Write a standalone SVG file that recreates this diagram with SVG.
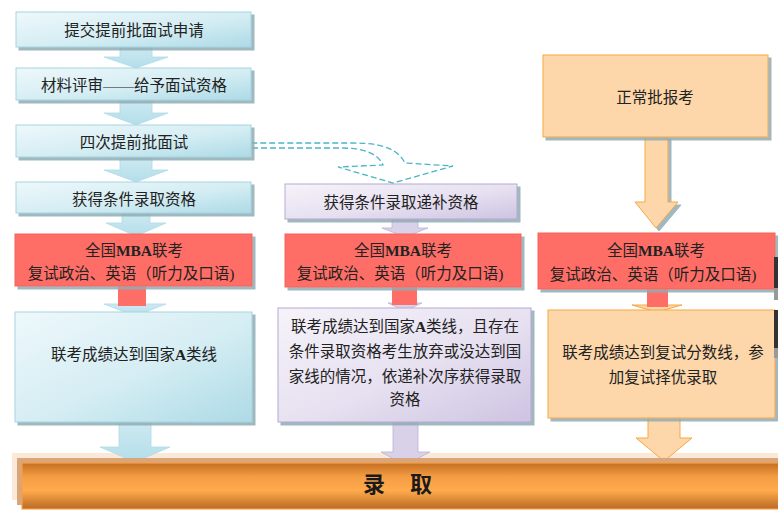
<svg xmlns="http://www.w3.org/2000/svg" width="778" height="513" viewBox="0 0 778 513">
<defs>
<linearGradient id="gC" x1="0" y1="0" x2="1" y2="1">
<stop offset="0" stop-color="#EEF8FB"/><stop offset="0.55" stop-color="#D4EDF3"/><stop offset="1" stop-color="#ADDAE6"/>
</linearGradient>
<linearGradient id="gCa" x1="0" y1="0" x2="0" y2="1">
<stop offset="0" stop-color="#CFEAF2"/><stop offset="1" stop-color="#B3DEEA"/>
</linearGradient>
<linearGradient id="gP" x1="0" y1="0" x2="1" y2="1">
<stop offset="0" stop-color="#F6F3FA"/><stop offset="0.55" stop-color="#E6E0F0"/><stop offset="1" stop-color="#CEC3E2"/>
</linearGradient>
<linearGradient id="gBar" x1="0" y1="0" x2="0" y2="1">
<stop offset="0" stop-color="#C46E22"/><stop offset="0.3" stop-color="#F59D44"/><stop offset="0.6" stop-color="#FFAA4C"/><stop offset="1" stop-color="#B96A24"/>
</linearGradient>
<filter id="sh" x="-10%" y="-10%" width="130%" height="140%">
<feDropShadow dx="3" dy="3" stdDeviation="0.6" flood-color="#8FABB4" flood-opacity="0.85"/>
</filter>
</defs>
<style>
.t{font-family:"Liberation Serif","Noto Sans CJK SC",serif;font-size:15.5px;fill:#222;text-anchor:middle;dominant-baseline:central}
.cyan{fill:url(#gC);stroke:#A5D5E0;stroke-width:1}
.purple{fill:url(#gP);stroke:#B7A9D2;stroke-width:1}
.red{fill:#FF6E66;stroke:#F4625A;stroke-width:1}
.peach{fill:#FDD6A9;stroke:#F4A843;stroke-width:1}
.ca{fill:url(#gCa);stroke:#AEDBE6;stroke-width:0.8}
.pa{fill:#D9D1E8;stroke:#BDB1D6;stroke-width:0.8}
.ra{fill:#FF6E66}
.oa{fill:#FDD6A9;stroke:#F4A843;stroke-width:1}
.dash{fill:none;stroke:#49B5C5;stroke-width:1.3;stroke-dasharray:6 3}
</style>
<rect width="778" height="513" fill="#FFFFFF"/>
<rect x="12" y="453" width="766" height="47" fill="#FCE8D6"/>

<g id="connectors">
<polygon class="ca" points="120,45 152,45 152,57 168,57 136,68 104,57 120,57"/>
<polygon class="ca" points="120,99 152,99 152,113 168,113 136,125 104,113 120,113"/>
<polygon class="ca" points="120,156 152,156 152,170 168,170 136,182 104,170 120,170"/>
<polygon class="ca" points="122,212 150,212 150,223 166,223 136,236 106,223 122,223"/>
<polygon class="ca" points="104,304 166,304 135,316"/>
<rect class="ra" x="118" y="285" width="28" height="21"/>
<polygon class="ca" points="119,420 151,420 151,447 170,447 135,462 100,447 119,447"/>
<polygon class="pa" points="392,219 418,219 418,228 428,228 405,237 382,228 392,228"/>
<polygon class="pa" points="388,303 422,303 405,311"/>
<rect class="ra" x="392" y="286" width="25" height="19"/>
<polygon class="pa" points="393,420 418,420 418,452 430,452 405,465 381,452 393,452"/>
<polygon class="oa" filter="url(#sh)" points="645,136 668,136 668,202 678,202 656,228 635,202 645,202"/>
<polygon class="oa" points="632,305 682,305 657,312"/>
<rect class="ra" x="647" y="289" width="21" height="18"/>
<polygon class="oa" points="648,416 680,416 680,438 692,438 664,461 636,438 648,438"/>
<path class="dash" d="M252,148 L340,148 C365,148 378,154 383,165 L338,167 L393,183 L453,166 L405,163 C398,150 385,143 352,143 L252,143"/>
</g>

<g id="n1"><rect class="cyan" filter="url(#sh)" x="16" y="12" width="235" height="35"/><text class="t" x="134" y="30">提交提前批面试申请</text></g>
<g id="n2"><rect class="cyan" filter="url(#sh)" x="16" y="68" width="235" height="32"/><text class="t" x="134" y="85">材料评审——给予面试资格</text></g>
<g id="n3"><rect class="cyan" filter="url(#sh)" x="16" y="125" width="235" height="32"/><text class="t" x="134" y="142">四次提前批面试</text></g>
<g id="n4"><rect class="cyan" filter="url(#sh)" x="16" y="182" width="235" height="31"/><text class="t" x="134" y="199">获得条件录取资格</text></g>
<g id="n5"><rect class="red" filter="url(#sh)" x="15" y="234" width="237" height="52"/><text class="t" x="134" y="250">全国<tspan font-weight="bold">MBA</tspan>联考</text><text class="t" x="131" y="273">复试政治、英语（听力及口语)</text></g>
<g id="n6"><rect class="cyan" filter="url(#sh)" x="15" y="312" width="237" height="110"/><text class="t" x="134" y="354">联考成绩达到国家<tspan font-weight="bold">A</tspan>类线</text></g>

<g id="m1"><rect class="purple" filter="url(#sh)" x="285" y="184" width="232" height="35"/><text class="t" x="401" y="202">获得条件录取递补资格</text></g>
<g id="m2"><rect class="red" filter="url(#sh)" x="285" y="234" width="236" height="53"/><text class="t" x="403" y="250">全国<tspan font-weight="bold">MBA</tspan>联考</text><text class="t" x="400" y="273">复试政治、英语（听力及口语)</text></g>
<g id="m3"><rect class="purple" filter="url(#sh)" x="278" y="308" width="253" height="114"/>
<text class="t" x="405" y="326">联考成绩达到国家<tspan font-weight="bold">A</tspan>类线，且存在</text>
<text class="t" x="405" y="351">条件录取资格考生放弃或没达到国</text>
<text class="t" x="405" y="376">家线的情况，依递补次序获得录取</text>
<text class="t" x="405" y="399">资格</text></g>

<g id="r1"><rect class="peach" filter="url(#sh)" x="543" y="55" width="225" height="82"/><text class="t" x="655" y="97">正常批报考</text></g>
<g id="r2"><rect class="red" filter="url(#sh)" x="538" y="233" width="237" height="56"/><text class="t" x="656" y="250">全国<tspan font-weight="bold">MBA</tspan>联考</text><text class="t" x="653" y="274">复试政治、英语（听力及口语)</text></g>
<g id="r3"><rect class="peach" filter="url(#sh)" x="548" y="310" width="227" height="108"/>
<text class="t" x="663" y="352">联考成绩达到复试分数线，参</text>
<text class="t" x="663" y="377">加复试择优录取</text></g>

<rect x="774" y="257" width="4" height="31" fill="#333"/>
<rect x="774" y="288" width="4" height="12" fill="#999"/>
<rect x="774" y="310" width="4" height="38" fill="#333"/>
<rect x="774" y="348" width="4" height="10" fill="#999"/>

<g id="admit">
<rect x="17" y="458" width="761" height="47" fill="#D9A57B"/>
<rect x="22" y="463" width="760" height="46" fill="url(#gBar)" stroke="#F7A048" stroke-width="1.2"/>
<text x="363" y="492" font-family="'Noto Sans CJK SC',sans-serif" font-size="22" font-weight="bold" fill="#1a1a1a" letter-spacing="10">录 取</text>
</g>
</svg>
